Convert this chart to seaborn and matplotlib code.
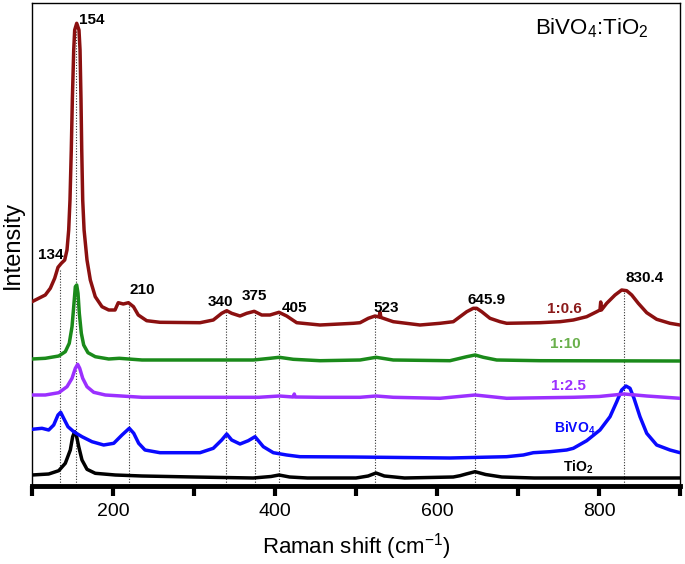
import matplotlib
matplotlib.use("Agg")
import matplotlib.pyplot as plt
import seaborn as sns
import pandas as pd
import numpy as np

# Raman spectra (x in cm-1, offset intensity in a.u.)
tio2_x = [100, 120.6, 133, 141.1, 147.3, 150.2, 152.7, 154.7, 157.7, 161.7, 167.9, 178.1,
          202.8, 235.8, 300, 373, 395, 405, 418, 440, 500, 515, 524.7, 535, 560, 620,
          628.4, 636, 647, 660, 680, 720, 800, 900]
tio2_y = [10, 11, 14.3, 21.7, 35, 48.3, 53.3, 50, 38.3, 25, 15.7, 11.7,
          10, 9, 8, 7, 8.5, 10, 8, 7, 7, 9, 12, 9, 7, 8,
          9.3, 11, 13.3, 10.5, 8, 7, 7, 7]

bivo4_x = [100, 112.3, 120.6, 126.8, 132.1, 135.4, 139.1, 144.4, 151.5, 161.7, 174.1, 188.5,
           200.9, 211.1, 220.1, 225.6, 231.7, 239.5, 258, 307.4, 323.8, 334.2, 340.4, 346.5,
           356.8, 367, 375.3, 385.6, 397.9, 414.4, 430.9, 496.3, 616, 686, 706.6, 718.9,
           739.5, 760, 768.3, 784.8, 801.2, 813.6, 821.9, 828, 833.3, 838.3, 843.2, 850.6,
           858.9, 871.2, 887.6, 900]
bivo4_y = [55.7, 56.7, 55, 60, 70, 72.7, 66.7, 58.3, 53.3, 48.3, 43.3, 40,
           41.7, 50, 56.7, 51.7, 41.7, 35, 32.3, 32.3, 36.7, 45, 51, 45,
           41, 44.3, 48.3, 38.3, 32.3, 30, 28.3, 28, 27, 28.3, 30, 32.3,
           33.3, 35, 36.7, 44.3, 55, 68.3, 83.3, 95, 99, 96.7, 86.7, 68.3,
           51.7, 40, 35, 32.3]

r25_x = [100, 116.4, 133, 143.2, 149.4, 153.5, 156.4, 158.9, 162.6, 167.9, 176.2, 190.5,
         235.8, 380, 405.3, 422.5, 423.8, 425, 455.6, 505, 524.7, 546, 603.7, 647, 686,
         768.3, 800, 831, 858.9, 900]
r25_y = [90, 90, 92.3, 98.3, 106.7, 116.7, 120.7, 116.7, 106.7, 98.3, 92.7, 90,
         87.7, 87.7, 89, 88, 91, 88, 87.7, 87.7, 89, 87.7, 86.7, 90, 86.7,
         87.7, 88.5, 91, 89, 86.7]

r10_x = [100, 116.4, 133, 141.1, 146, 149.4, 151.5, 153.5, 155.2, 156.8, 158.4, 160.9,
         163.8, 169.1, 178.1, 194.7, 207.8, 235.8, 373.2, 393.8, 405.3, 422.6, 455.6, 505,
         524.7, 546, 616, 636.7, 647, 657.2, 673.7, 727.2, 900]
r10_y = [126, 126.7, 129, 133.3, 141.7, 158.3, 178.3, 198.3, 200, 191.7, 171.7, 151.7,
         140, 132.3, 128.3, 126, 126.7, 125, 125, 126.7, 127.7, 125.7, 124.3, 125,
         127.7, 125, 124.3, 128.3, 130, 127.7, 125, 124.3, 124]

r06_x = [100, 108.3, 116.4, 122.6, 128, 132.1, 136.2, 140.4, 143.2, 145.3, 146.9, 148.5,
         149.8, 151.5, 152.7, 155.2, 158, 159.3, 160.5, 161.4, 162.6, 164.3, 167.9, 172,
         178.1, 186.4, 194.7, 202.5, 206.5, 212.7, 219.1, 225.3, 231.2, 241.6, 258, 307.4,
         323.8, 334.2, 340.4, 346.5, 356.8, 365.1, 374.4, 383.6, 393.8, 404.9, 414.4, 426.8,
         455.6, 496.7, 505, 515.2, 523.5, 528.5, 529.6, 530.8, 533.7, 546, 579, 603.7,
         620.1, 628.4, 636.7, 644.8, 649, 655.2, 665.4, 677.8, 686, 727.2, 751.9, 768.3,
         784.8, 797.2, 801.2, 802.1, 803, 809.5, 819.8, 828, 834.2, 840.4, 848.5, 858.9,
         871.2, 887.6, 900]
r06_y = [183.3, 186.7, 190, 196.7, 206.7, 217.7, 221.7, 225, 235, 255, 285, 335,
         385, 435, 455, 461.7, 455, 435, 385, 335, 285, 255, 225, 205,
         188.3, 178.3, 175, 175, 182.3, 181, 182.3, 178.3, 170, 164.3, 162.7, 162.3,
         165, 171.7, 174.3, 171.7, 169, 171.7, 173.7, 170, 170, 172.7, 169, 162.3,
         160, 161.7, 162.3, 166.7, 169, 168, 173, 167.5, 166.7, 163.3, 160, 161.7,
         163.3, 168.3, 173.3, 176.7, 176.7, 173.3, 166.7, 163.3, 161.7, 162.3, 163.3, 165,
         168.3, 173.3, 175, 183, 175, 181.7, 190, 195, 194.3, 190, 181.7, 172.3,
         165.7, 161.7, 160]

peak_pos = [134, 154, 220, 340, 375, 405, 524, 647, 831]
peak_top = [215, 455, 182, 174, 173, 172, 169, 176, 194]

sns.set_style("ticks", {"axes.edgecolor": "black", "xtick.color": "black",
                        "text.color": "black", "axes.labelcolor": "black"})
plt.rcParams["font.family"] = ["Liberation Sans", "DejaVu Sans"]
plt.rcParams["mathtext.fontset"] = "custom"
plt.rcParams["mathtext.rm"] = "Liberation Sans"
plt.rcParams["mathtext.bf"] = "Liberation Sans:bold"

fig = plt.figure(figsize=(6.85, 5.64), dpi=100)
ax = fig.add_axes([32 / 685, 78 / 564, 648 / 685, 483 / 564])

# dotted guide lines under the spectra
ax.vlines(peak_pos, 0, peak_top, colors="#333333", linestyles=(0, (1, 1.5)), lw=0.8, zorder=1)

spectra = [
    (tio2_x, tio2_y, "black"),
    (bivo4_x, bivo4_y, "#0a0aff"),
    (r25_x, r25_y, "#9b30ff"),
    (r10_x, r10_y, "#1a8a1a"),
    (r06_x, r06_y, "#8b1010"),
]
for xs, ys, col in spectra:
    df = pd.DataFrame({"shift": xs, "intensity": ys})
    sns.lineplot(data=df, x="shift", y="intensity", ax=ax, color=col, lw=2.5,
                 estimator=None, sort=False, zorder=3,
                 solid_joinstyle="round", solid_capstyle="round")

# peak labels
pk = dict(fontsize=11, fontweight="bold", ha="center", va="center", color="black")
ax.text(174, 465, "154", **pk)
ax.text(123, 230, "134", **pk)
ax.text(236, 195, "210", **pk)
ax.text(333, 183, "340", **pk)
ax.text(374, 189, "375", **pk)
ax.text(424, 177, "405", **pk)
ax.text(537, 177.5, "523", **pk)
ax.text(661, 184.5, "645.9", **pk)
ax.text(856, 207.5, "830.4", **pk)

# sample labels
sl = dict(fontsize=11, fontweight="bold", ha="center", va="center")
ax.text(757, 176, "1:0.6", color="#8b1a1a", **sl)
ax.text(759, 141, "1:10", color="#6ab04c", **sl)
ax.text(762, 99, "1:2.5", color="#9b30ff", **sl)
ax.text(770, 57, r"BiVO$_\mathbf{4}$", color="#0a0aff", fontsize=10, fontweight="bold",
        ha="center", va="center")
ax.text(774, 18, r"TiO$_\mathbf{2}$", color="black", fontsize=10, fontweight="bold",
        ha="center", va="center")

ax.text(791, 457, r"BiVO$_4$:TiO$_2$", fontsize=16, ha="center", va="center")

ax.set_xlim(100, 900)
ax.set_ylim(-1, 482)
ax.set_xticks(np.arange(100, 901, 100))
ax.set_xticklabels(["", "200", "", "400", "", "600", "", "800", ""])
ax.set_yticks([])
ax.tick_params(axis="x", direction="out", length=7, width=3, labelsize=14, pad=5)
ax.set_xlabel("Raman shift (cm$^{-1}$)", fontsize=16, labelpad=8)
ax.set_ylabel("Intensity", fontsize=17, labelpad=6)

for side in ["left", "top", "right"]:
    ax.spines[side].set_linewidth(1.0)
ax.spines["bottom"].set_linewidth(3.5)

fig.savefig("out.png", dpi=100)
